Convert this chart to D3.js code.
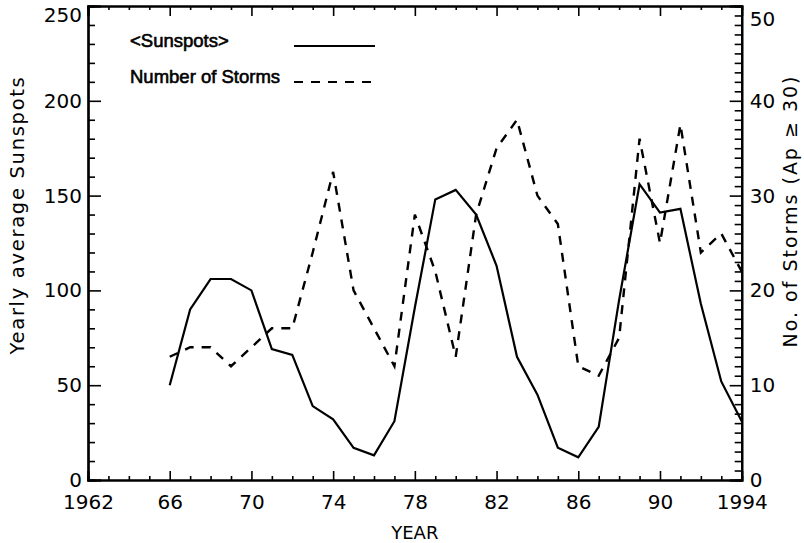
<!DOCTYPE html>
<html>
<head>
<meta charset="utf-8">
<script src="https://cdn.jsdelivr.net/npm/d3@7"></script>
<style>
  html, body { margin: 0; padding: 0; background: #fff; }
  svg { display: block; }
  .axis path, .axis line { stroke: #000; }
  .axis text { font-family: "DejaVu Sans", sans-serif; font-size: 20px; fill: #000; }
</style>
</head>
<body>
<script>
// Yearly average sunspot number and count of geomagnetic storms (Ap >= 30)
const years = [1966, 1967, 1968, 1969, 1970, 1971, 1972, 1973, 1974, 1975,
               1976, 1977, 1978, 1979, 1980, 1981, 1982, 1983, 1984, 1985,
               1986, 1987, 1988, 1989, 1990, 1991, 1992, 1993, 1994];
const sunspots = [50, 90, 106, 106, 100, 69, 66, 39, 32, 17,
                  13, 31, 91, 148, 153, 140, 113, 65, 45, 17,
                  12, 28, 95, 156, 141, 143, 93, 52, 31];
const storms = [13, 14, 14, 12, 14, 16, 16, 24, 32.5, 20,
                16, 12, 28, 22, 13, 28, 35, 38, 30, 27,
                12, 11, 15, 36, 25, 37.5, 24, 26, 22];

const yearTicks = [1962, 1966, 1970, 1974, 1978, 1982, 1986, 1990, 1994];
const yearTickLabels = ["1962", "66", "70", "74", "78", "82", "86", "90", "1994"];
const sunspotTicks = [0, 50, 100, 150, 200, 250];
const stormTicks = [0, 10, 20, 30, 40, 50];

const legendLabels = ["<Sunspots>", "Number of Storms"];
const xTitle = "YEAR";
const yLeftTitle = "Yearly average Sunspots";
const yRightTitle = "No. of Storms (Ap \u2265 30)";

const W = 804, H = 543;
const plotLeft = 88, plotRight = 741.7, plotTop = 6, plotBottom = 480;

const svg = d3.select("body").append("svg").attr("width", W).attr("height", H);

const x = d3.scaleLinear().domain([1962, 1994]).range([plotLeft, plotRight]);
const yL = d3.scaleLinear().domain([0, 250]).range([plotBottom, plotTop]);
const yR = d3.scaleLinear().domain([0, 50]).range([plotBottom, plotTop]);

const allYears = d3.range(1962, 1995);
const minorYears = allYears.filter(v => (v - 1962) % 4 !== 0);
const minorSun = d3.range(0, 251, 10).filter(v => v % 50 !== 0);
const minorStorm = d3.range(0, 51, 1).filter(v => v % 10 !== 0);

function styleAxis(g, width) {
  g.attr("class", "axis");
  g.select(".domain").attr("stroke-width", width);
  g.selectAll(".tick line").attr("stroke-width", 1.6);
}

// minor ticks first, then major ticks with labels
svg.append("g").attr("transform", `translate(0,${plotBottom})`)
  .call(d3.axisBottom(x).tickValues(minorYears).tickSize(-4).tickFormat(""))
  .call(g => styleAxis(g, 2.2));
svg.append("g").attr("transform", `translate(0,${plotBottom})`)
  .call(d3.axisBottom(x).tickValues(yearTicks).tickSize(-9).tickPadding(15)
        .tickFormat((d, i) => yearTickLabels[i]))
  .call(g => styleAxis(g, 2.2));

svg.append("g").attr("transform", `translate(0,${plotTop})`)
  .call(d3.axisTop(x).tickValues(minorYears).tickSize(-4).tickFormat(""))
  .call(g => styleAxis(g, 2.2));
svg.append("g").attr("transform", `translate(0,${plotTop})`)
  .call(d3.axisTop(x).tickValues(yearTicks).tickSize(-10).tickFormat(""))
  .call(g => styleAxis(g, 2.2));

svg.append("g").attr("transform", `translate(${plotLeft},0)`)
  .call(d3.axisLeft(yL).tickValues(minorSun).tickSize(-7).tickFormat(""))
  .call(g => styleAxis(g, 2.2));
const gL = svg.append("g").attr("transform", `translate(${plotLeft},0)`)
  .call(d3.axisLeft(yL).tickValues(sunspotTicks).tickSize(-13).tickPadding(6))
  .call(g => styleAxis(g, 2.2));
// keep the top label inside the page
gL.selectAll(".tick text").filter(d => d === 250).attr("dy", "0.77em");

svg.append("g").attr("transform", `translate(${plotRight},0)`)
  .call(d3.axisRight(yR).tickValues(minorStorm).tickSize(-7).tickFormat(""))
  .call(g => styleAxis(g, 2.2));
const gR = svg.append("g").attr("transform", `translate(${plotRight},0)`)
  .call(d3.axisRight(yR).tickValues(stormTicks).tickSize(-12).tickPadding(8))
  .call(g => styleAxis(g, 2.2));
gR.selectAll(".tick text").filter(d => d === 50).attr("dy", "0.95em");

// axis titles
svg.append("text")
  .attr("x", (plotLeft + plotRight) / 2).attr("y", 539)
  .attr("text-anchor", "middle")
  .style("font-family", "DejaVu Sans, sans-serif").style("font-size", "18px")
  .text(xTitle);

svg.append("text")
  .attr("transform", `translate(24,215) rotate(-90)`)
  .attr("text-anchor", "middle")
  .style("font-family", "DejaVu Sans, sans-serif").style("font-size", "19.5px")
  .style("letter-spacing", "1.7px")
  .text(yLeftTitle);

svg.append("text")
  .attr("transform", `translate(797,211) rotate(-90)`)
  .attr("text-anchor", "middle")
  .style("font-family", "DejaVu Sans, sans-serif").style("font-size", "19px")
  .style("letter-spacing", "2px")
  .text(yRightTitle);

// data lines
const sunLine = d3.line().x((d, i) => x(years[i])).y(d => yL(d));
const stormLine = d3.line().x((d, i) => x(years[i])).y(d => yR(d));

svg.append("path").datum(sunspots)
  .attr("d", sunLine)
  .attr("fill", "none").attr("stroke", "#000").attr("stroke-width", 2.2)
  .attr("stroke-linejoin", "miter");

svg.append("path").datum(storms)
  .attr("d", stormLine)
  .attr("fill", "none").attr("stroke", "#000").attr("stroke-width", 2.4)
  .attr("stroke-dasharray", "9,8");

// legend
const legend = svg.append("g");
const legendRows = [
  { label: legendLabels[0], y: 47, dash: null },
  { label: legendLabels[1], y: 83, dash: "9,8" }
];
legendRows.forEach(r => {
  legend.append("text")
    .attr("x", 130).attr("y", r.y)
    .style("font-family", "Liberation Sans, Arial, sans-serif").style("font-size", "18.5px")
    .attr("fill", "#000").attr("stroke", "#000").attr("stroke-width", 0.6)
    .text(r.label);
  legend.append("line")
    .attr("x1", 294).attr("x2", 375).attr("y1", r.y - 1).attr("y2", r.y - 1)
    .attr("stroke", "#000").attr("stroke-width", 2)
    .attr("stroke-dasharray", r.dash);
});
</script>
</body>
</html>
